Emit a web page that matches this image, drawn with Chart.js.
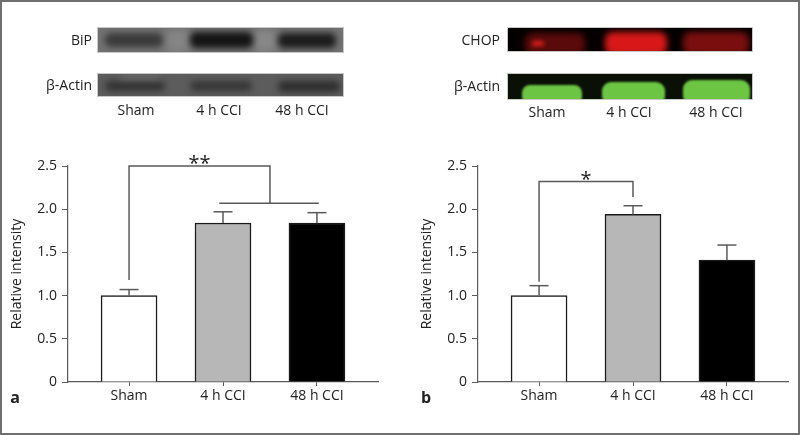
<!DOCTYPE html>
<html>
<head>
<meta charset="utf-8">
<script src="https://cdn.jsdelivr.net/npm/chart.js@4.4.1/dist/chart.umd.min.js"></script>
<style>
  html, body { margin: 0; padding: 0; background: #fff; }
  #fig { position: relative; width: 800px; height: 435px; overflow: hidden; font-family: 'Open Sans', sans-serif; color: #222; }
  #frame { position: absolute; left: 0; top: 0; width: 800px; height: 435px; box-sizing: border-box; border: 2px solid #707070; pointer-events: none; }
  .lbl { position: absolute; font-size: 14px; line-height: 16px; white-space: nowrap; }
  .right { transform: translate(-100%, -50%); }
  .center { transform: translate(-50%, -50%); }
  .letter { position: absolute; font-size: 16px; font-weight: bold; transform: translate(-50%, -50%); }
  canvas { position: absolute; }
</style>
</head>
<body>
<div id="fig">
  <canvas id="blots" width="800" height="130" style="left:0;top:0"></canvas>
  <canvas id="chartA" width="400" height="305" style="left:0;top:130px"></canvas>
  <canvas id="chartB" width="400" height="305" style="left:400px;top:130px"></canvas>
  <div class="letter" style="left:15px;top:397px">a</div>
  <div class="letter" style="left:426px;top:397px">b</div>
  <div id="frame"></div>
</div>
<script>
// data
const categories = ["Sham", "4 h CCI", "48 h CCI"];
const yTicks = [0, 0.5, 1.0, 1.5, 2.0, 2.5];

const bipValues = [1.0, 1.84, 1.84];
const bipErrors = [0.07, 0.13, 0.12];
const chopValues = [1.0, 1.94, 1.41];
const chopErrors = [0.115, 0.10, 0.175];

// significance brackets: [x from, x to], [top, left end, right end]
const bracketA = [0, 1.5];
const bracketA_y = [2.5, 1.18, 2.07];
const bracketA_join = [0.96, 2.02];
const bracketB = [0, 1];
const bracketB_y = [2.32, 1.16, 2.14];

const barColors = ["#ffffff", "#b7b7b7", "#000000"];
const axisColor = "#5a5a5a";

Chart.defaults.font.family = "'Open Sans', sans-serif";
Chart.defaults.font.size = 14;
Chart.defaults.color = "#222";

// top: western blot pictures
const fig = document.getElementById("fig");
function label(text, x, y, cls) {
  const el = document.createElement("div");
  el.className = "lbl " + cls;
  el.style.left = x + "px";
  el.style.top = y + "px";
  el.textContent = text;
  fig.appendChild(el);
}

const bctx = document.getElementById("blots").getContext("2d");

function blob(x, y, w, h, r, color, blur) {
  bctx.save();
  bctx.filter = "blur(" + blur + "px)";
  bctx.fillStyle = color;
  bctx.beginPath();
  bctx.roundRect(x, y, w, h, r);
  bctx.fill();
  bctx.restore();
}

function strip(x, y, w, h, bg, draw) {
  bctx.save();
  bctx.beginPath();
  bctx.rect(x, y, w, h);
  bctx.clip();
  bctx.fillStyle = bg;
  bctx.fillRect(x, y, w, h);
  draw();
  bctx.restore();
  bctx.strokeStyle = "#c8c8c8";
  bctx.lineWidth = 1;
  bctx.strokeRect(x + 0.5, y + 0.5, w - 1, h - 1);
}

// BiP
strip(97, 27, 247, 26, "#727272", () => {
  blob(165, 30, 25, 22, 6, "#858585", 4);
  blob(254, 30, 22, 22, 6, "#888888", 4);
  blob(105, 33, 58, 14, 6, "#3a3a3a", 3);
  blob(190, 32, 63, 16, 6, "#141414", 3);
  blob(278, 33, 58, 15, 6, "#1c1c1c", 3);
});
// beta actin (a)
strip(97, 73, 247, 24, "#5c5c5c", () => {
  blob(105, 81, 60, 10, 5, "#333333", 3);
  blob(190, 81, 62, 10, 5, "#363636", 3);
  blob(278, 81, 62, 11, 5, "#2e2e2e", 3);
  blob(120, 74, 40, 5, 3, "#6a6a6a", 3);
});
// CHOP
strip(507, 27, 246, 25, "#050000", () => {
  blob(525, 33, 60, 22, 8, "#5a0a0a", 3);
  blob(532, 41, 12, 5, 3, "#e02020", 2);
  blob(605, 32, 62, 23, 8, "#d81818", 3);
  blob(683, 32, 66, 23, 8, "#7a0e0e", 3);
});
// beta actin (b)
strip(507, 73, 246, 27, "#0a1006", () => {
  blob(522, 85, 60, 20, 8, "#6cc644", 1.2);
  blob(602, 82, 63, 23, 9, "#6cc644", 1.2);
  blob(683, 80, 67, 25, 9, "#6cc644", 1.2);
});

label("BiP", 92, 40, "right");
label("\u03b2-Actin", 92, 85, "right");
label("CHOP", 500, 40, "right");
label("\u03b2-Actin", 500, 86, "right");
const colA = [136, 219, 302];
const colB = [547, 629, 716];
categories.forEach((c, i) => {
  label(c, colA[i], 110, "center");
  label(c, colB[i], 112, "center");
});

// bottom: bar charts
function line(ctx, x1, y1, x2, y2) {
  ctx.beginPath();
  ctx.moveTo(x1, y1);
  ctx.lineTo(x2, y2);
  ctx.stroke();
}

const overlay = {
  id: "overlay",
  afterDatasetsDraw(chart, args, opts) {
    const { ctx } = chart;
    const x = chart.scales.x, y = chart.scales.y;
    ctx.save();
    ctx.strokeStyle = axisColor;
    ctx.lineWidth = 1.5;
    // error bars (upper only)
    opts.values.forEach((v, i) => {
      const px = x.getPixelForValue(i);
      const top = y.getPixelForValue(v + opts.errors[i]);
      line(ctx, px, y.getPixelForValue(v), px, top);
      line(ctx, px - 9.5, top, px + 9.5, top);
    });
    // bracket
    const [x0, x1] = opts.span;
    const [yt, yl, yr] = opts.levels;
    const top = y.getPixelForValue(yt);
    ctx.beginPath();
    ctx.moveTo(x.getPixelForValue(x0), y.getPixelForValue(yl));
    ctx.lineTo(x.getPixelForValue(x0), top);
    ctx.lineTo(x.getPixelForValue(x1), top);
    ctx.lineTo(x.getPixelForValue(x1), y.getPixelForValue(yr));
    ctx.stroke();
    if (opts.join) {
      const yj = y.getPixelForValue(yr);
      line(ctx, x.getPixelForValue(opts.join[0]), yj, x.getPixelForValue(opts.join[1]), yj);
    }
    ctx.fillStyle = "#222";
    ctx.font = "20px 'Open Sans', sans-serif";
    ctx.textAlign = "center";
    ctx.textBaseline = "alphabetic";
    ctx.fillText(opts.stars, x.getPixelForValue((x0 + x1) / 2), top + 4);
    ctx.restore();
  }
};

function makeChart(id, values, errors, padLeft, padRight, span, levels, join, stars) {
  return new Chart(document.getElementById(id), {
    type: "bar",
    data: {
      datasets: [{
        data: values.map((v, i) => ({ x: i, y: v })),
        backgroundColor: barColors,
        borderColor: "#1a1a1a",
        borderWidth: 1.5,
        barThickness: 56
      }]
    },
    options: {
      responsive: false,
      animation: false,
      layout: { padding: { left: padLeft, right: padRight, top: 36, bottom: 23 } },
      plugins: {
        legend: { display: false },
        tooltip: { enabled: false },
        overlay: { values, errors, span, levels, join, stars }
      },
      scales: {
        x: {
          type: "linear",
          min: -0.65,
          max: 2.65,
          offset: false,
          afterBuildTicks: s => { s.ticks = categories.map((c, i) => ({ value: i })); },
          afterFit: s => { s.height = 30; },
          ticks: { callback: v => categories[v], padding: 2, maxRotation: 0, autoSkip: false, color: "#222" },
          grid: { offset: false, drawOnChartArea: false, tickLength: 4, color: axisColor, lineWidth: 1 },
          border: { color: axisColor, width: 1.2 }
        },
        y: {
          min: 0,
          max: 2.5,
          afterBuildTicks: s => { s.ticks = yTicks.map(v => ({ value: v })); },
          afterFit: s => { s.width = 68; },
          ticks: { callback: v => (v === 0 ? "0" : v.toFixed(1)), padding: 5, color: "#222" },
          grid: { drawOnChartArea: false, tickLength: 6, color: axisColor, lineWidth: 1 },
          border: { color: axisColor, width: 1.2 },
          title: { display: true, text: "Relative intensity", font: { size: 14 }, padding: { top: 9, bottom: 0 }, color: "#222" }
        }
      }
    },
    plugins: [overlay]
  });
}

makeChart("chartA", bipValues, bipErrors, 0, 22, bracketA, bracketA_y, bracketA_join, "**");
makeChart("chartB", chopValues, chopErrors, 10, 12, bracketB, bracketB_y, null, "*");
</script>
</body>
</html>
